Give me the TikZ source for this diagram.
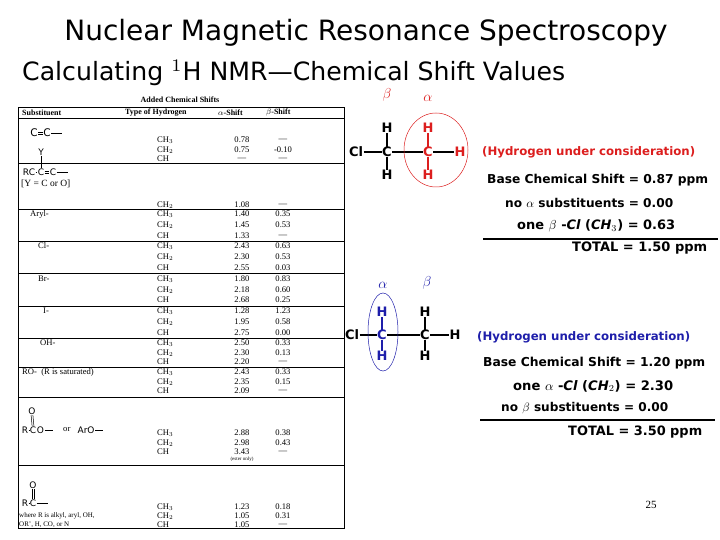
\documentclass[tikz,border=0pt]{standalone}
\usepackage{fontspec}
\setmainfont{Liberation Serif}
\newfontfamily\ttl{DejaVu Sans}
\newfontfamily\chem{DejaVu Sans}
\newcommand{\fitw}[2]{\resizebox{#1}{!}{#2}}
\definecolor{nred}{RGB}{220,30,30}
\definecolor{nblue}{RGB}{30,30,170}
\begin{document}
\begin{tikzpicture}[x=1pt,y=-1pt,
  tb/.style={inner sep=0pt,font=\fontsize{8.6}{9}\selectfont},
  hd/.style={tb,font=\fontsize{8}{9}\selectfont\bfseries},
  rl/.style={line width=0.5pt},
  sm/.style={inner sep=0.4pt,font=\chem\fontsize{9}{9}\selectfont},
  atm/.style={inner sep=0.3pt,font=\chem\bfseries\fontsize{13}{14}\selectfont},
  grk/.style={inner sep=0pt,font=\rmfamily\fontsize{14}{14}\selectfont},
  calc/.style={inner sep=0pt,anchor=west},
  bond/.style={line width=1.8pt},
  hbond/.style={line width=1.1pt},
  tbond/.style={line width=0.5pt}]
\useasboundingbox (0,0) rectangle (720,540);
% titles
\node[inner sep=0pt] (t1) at (366,33) {\ttl\fitw{603pt}{Nuclear Magnetic Resonance Spectroscopy}};
\node[inner sep=0pt,anchor=west] (t2) at (22,73) {\ttl\fitw{543pt}{Calculating $^{1}$H NMR\textemdash Chemical Shift Values}};
% table
\node[hd] (cap) at (180,100) {Added Chemical Shifts};
\draw[rl] (18,107) rectangle (344,528);
\foreach \yy in {118,163,209,241,273,306,338,367,397,465} \draw[rl] (18,\yy) -- (344,\yy);
\node[hd,anchor=west] (h1) at (22,112.5) {Substituent};
\node[hd,anchor=west] (h2) at (125,112.5) {Type of Hydrogen};
\node[hd,anchor=west] (h3) at (218,112.5) {$\alpha$-Shift};
\node[hd,anchor=west] (h4) at (266,112.5) {$\beta$-Shift};
\foreach \yy/\ty/\aa/\bb [count=\i] in {
 140/CH$_3$/0.78/---, 150/CH$_2$/0.75/-0.10, 159/CH/---/---,
 205/CH$_2$/1.08/---,
 214/CH$_3$/1.40/0.35, 225/CH$_2$/1.45/0.53, 236/CH/1.33/---,
 246/CH$_3$/2.43/0.63, 257/CH$_2$/2.30/0.53, 268/CH/2.55/0.03,
 279/CH$_3$/1.80/0.83, 290/CH$_2$/2.18/0.60, 300/CH/2.68/0.25,
 311/CH$_3$/1.28/1.23, 322/CH$_2$/1.95/0.58, 333/CH/2.75/0.00,
 343/CH$_3$/2.50/0.33, 353/CH$_2$/2.30/0.13, 362/CH/2.20/---,
 372/CH$_3$/2.43/0.33, 382/CH$_2$/2.35/0.15, 391/CH/2.09/---,
 433/CH$_3$/2.88/0.38, 443/CH$_2$/2.98/0.43, 452/CH/3.43/---,
 507/CH$_3$/1.23/0.18, 516/CH$_2$/1.05/0.31, 525/CH/1.05/---}{
  \node[tb,anchor=west] (ty\i) at (157,\yy) {\ty};
  \node[tb] (al\i) at (242,\yy) {\aa};
  \node[tb] (be\i) at (283,\yy) {\bb};
}
\node[tb,font=\fontsize{5}{5}\selectfont] (eo) at (242,459) {(ester only)};
\node[tb,anchor=west] (s1) at (30,214) {Aryl-};
\node[tb,anchor=west] (s2) at (38,246) {Cl-};
\node[tb,anchor=west] (s3) at (38,279) {Br-};
\node[tb,anchor=west] (s4) at (43,311) {I-};
\node[tb,anchor=west] (s5) at (40,343) {OH-};
\node[tb,anchor=west] (s6) at (22,372) {RO- \ (R is saturated)};
% table structures
\node[sm,font=\chem\fontsize{10.5}{10}\selectfont] (c1a) at (34,133) {C};
\node[sm,font=\chem\fontsize{10.5}{10}\selectfont] (c1b) at (47,133) {C};
\draw[tbond] ([yshift=-1pt]c1a.east) -- ([yshift=-1pt]c1b.west) ([yshift=1pt]c1a.east) -- ([yshift=1pt]c1b.west);
\draw[tbond] (c1b.east) -- ++(11,0) coordinate (c1e);
\node[sm] (y1) at (41,152) {Y};
\node[sm] (c2a) at (29,172) {RC};
\node[sm] (c2b) at (41,172) {C};
\node[sm] (c2c) at (53,172) {C};
\draw[tbond] (y1) -- (c2b);
\draw[tbond] (c2a) -- (c2b);
\draw[tbond] ([yshift=-1pt]c2b.east) -- ([yshift=-1pt]c2c.west) ([yshift=1pt]c2b.east) -- ([yshift=1pt]c2c.west);
\draw[tbond] (c2c.east) -- ++(11,0) coordinate (c2e);
\node[tb,font=\fontsize{9.5}{10}\selectfont,anchor=west] (yc) at (21,184) {[Y = C or O]};
\node[sm] (o1) at (32,411) {O};
\node[sm] (r3) at (25,430) {R};
\node[sm] (c3) at (33,430) {C};
\node[sm] (c3o) at (40.5,430) {O};
\draw[tbond] (r3) -- (c3);
\draw[tbond] ([xshift=-0.9pt]c3.north) -- ([xshift=-0.9pt]o1.south) ([xshift=0.9pt]c3.north) -- ([xshift=0.9pt]o1.south);
\draw[tbond] (c3o.east) -- ++(8,0) coordinate (c3e);
\node[tb,anchor=west] (or) at (63,430) {or};
\node[sm,anchor=west] (ar) at (77,430) {ArO};
\draw[tbond] (ar.east) -- ++(8,0) coordinate (are);
\node[sm] (o2) at (33,485) {O};
\node[sm] (r4) at (25,503) {R};
\node[sm] (c4) at (33,503) {C};
\draw[tbond] (r4) -- (c4);
\draw[tbond] ([xshift=-0.9pt]c4.north) -- ([xshift=-0.9pt]o2.south) ([xshift=0.9pt]c4.north) -- ([xshift=0.9pt]o2.south);
\draw[tbond] (c4.east) -- ++(11,0) coordinate (c4e);
\node[tb,anchor=west,font=\fontsize{7}{7}\selectfont] (w1) at (19,516) {where R is alkyl, aryl, OH,};
\node[tb,anchor=west,font=\fontsize{7}{7}\selectfont] (w2) at (19,525) {OR', H, CO, or N};
% structure 1
\node[grk,text=nred] (b1) at (387,95) {$\beta$};
\node[grk,text=nred] (a1) at (428,98) {$\alpha$};
\node[atm] (cl1) at (356,152) {Cl};
\node[atm] (ca1) at (387,152) {C};
\node[atm] (ha1) at (387,128) {H};
\node[atm] (hb1) at (387,175) {H};
\node[atm,text=nred] (cb1) at (428,152) {C};
\node[atm,text=nred] (hc1) at (428,128) {H};
\node[atm,text=nred] (hd1) at (428,175) {H};
\node[atm,text=nred] (he1) at (460,152) {H};
\draw[hbond] (cl1) -- (ca1); \draw[hbond] (ca1) -- (cb1); \draw[hbond] (cb1) -- (he1);
\draw[bond] (ca1) -- (ha1); \draw[bond] (ca1) -- (hb1);
\draw[bond,nred] (cb1) -- (hc1); \draw[bond,nred] (cb1) -- (hd1);
\draw[nred,line width=0.5pt] (436,150) ellipse (32 and 37);
\node[calc,text=nred] (hy1) at (482,152) {\chem\bfseries\fitw{213pt}{(Hydrogen under consideration)}};
\node[calc] (l11) at (487,180) {\chem\bfseries\fitw{221pt}{Base Chemical Shift = 0.87 ppm}};
\node[calc] (l12) at (505,203) {\chem\bfseries\fitw{168pt}{no {\rmfamily\mdseries$\alpha$} substituents = 0.00}};
\node[calc] (l13) at (517,226) {\chem\bfseries\fitw{158pt}{one {\rmfamily\mdseries$\beta$} -{\itshape Cl} ({\itshape CH}$_3$) = 0.63}};
\draw[line width=1.5pt] (483,239) coordinate (u1) -- (718,239) coordinate (u2);
\node[calc] (l14) at (572,248) {\chem\bfseries\fitw{135pt}{TOTAL = 1.50 ppm}};
% structure 2
\node[grk,text=nblue] (a2) at (383,285) {$\alpha$};
\node[grk,text=nblue] (b2) at (427,283) {$\beta$};
\node[atm] (cl2) at (352,335) {Cl};
\node[atm,text=nblue] (ca2) at (382,335) {C};
\node[atm,text=nblue] (ha2) at (382,312) {H};
\node[atm,text=nblue] (hb2) at (382,356) {H};
\node[atm] (cb2) at (425,335) {C};
\node[atm] (hc2) at (425,312) {H};
\node[atm] (hd2) at (425,356) {H};
\node[atm] (he2) at (455,335) {H};
\draw[hbond] (cl2) -- (ca2); \draw[hbond] (ca2) -- (cb2); \draw[hbond] (cb2) -- (he2);
\draw[bond,nblue] (ca2) -- (ha2); \draw[bond,nblue] (ca2) -- (hb2);
\draw[bond] (cb2) -- (hc2); \draw[bond] (cb2) -- (hd2);
\draw[nblue,line width=0.5pt] (383,332) ellipse (15 and 39);
\node[calc,text=nblue] (hy2) at (477,337) {\chem\bfseries\fitw{213pt}{(Hydrogen under consideration)}};
\node[calc] (l21) at (483,363) {\chem\bfseries\fitw{222pt}{Base Chemical Shift = 1.20 ppm}};
\node[calc] (l22) at (513,386) {\chem\bfseries\fitw{160pt}{one {\rmfamily\mdseries$\alpha$} -{\itshape Cl} ({\itshape CH}$_2$) = 2.30}};
\node[calc] (l23) at (501,408) {\chem\bfseries\fitw{167pt}{no {\rmfamily\mdseries$\beta$} substituents = 0.00}};
\draw[line width=1.5pt] (480,420) coordinate (u3) -- (715,420) coordinate (u4);
\node[calc] (l24) at (568,432) {\chem\bfseries\fitw{134pt}{TOTAL = 3.50 ppm}};
\node[inner sep=0pt,font=\fontsize{11}{12}\selectfont] (pg) at (651,505) {25};
\end{tikzpicture}
\end{document}
